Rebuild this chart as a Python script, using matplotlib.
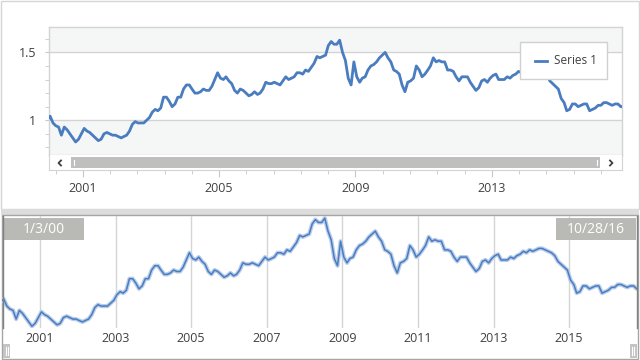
import numpy as np
import pandas as pd
import matplotlib
matplotlib.use("Agg")
import matplotlib.pyplot as plt
from matplotlib.patches import Rectangle
from matplotlib.lines import Line2D

# ---------------- data ----------------
series_name = "Series 1"
start_date = "2000-01-03"
end_date = "2016-10-28"
start_value = 1.02
end_value = 1.10
# approximate monthly levels (mid-month), Jan 2000 .. Oct 2016
values_2000 = [1.03, 0.98, 0.96, 0.95, 0.89, 0.95, 0.93, 0.90, 0.87, 0.84, 0.86, 0.90]
values_2001 = [0.94, 0.92, 0.91, 0.89, 0.87, 0.85, 0.86, 0.90, 0.91, 0.90, 0.89, 0.89]
values_2002 = [0.88, 0.87, 0.88, 0.89, 0.92, 0.97, 0.99, 0.98, 0.98, 0.98, 1.00, 1.02]
values_2003 = [1.06, 1.08, 1.07, 1.09, 1.17, 1.17, 1.14, 1.10, 1.12, 1.17, 1.17, 1.23]
values_2004 = [1.26, 1.26, 1.23, 1.20, 1.20, 1.21, 1.23, 1.22, 1.22, 1.25, 1.30, 1.35]
values_2005 = [1.31, 1.30, 1.32, 1.29, 1.27, 1.22, 1.20, 1.23, 1.22, 1.20, 1.18, 1.19]
values_2006 = [1.21, 1.19, 1.20, 1.23, 1.28, 1.27, 1.27, 1.28, 1.27, 1.26, 1.29, 1.32]
values_2007 = [1.30, 1.31, 1.32, 1.35, 1.35, 1.34, 1.37, 1.36, 1.39, 1.42, 1.47, 1.46]
values_2008 = [1.47, 1.48, 1.55, 1.58, 1.56, 1.56, 1.59, 1.50, 1.44, 1.31, 1.26, 1.43]
values_2009 = [1.32, 1.28, 1.31, 1.32, 1.37, 1.40, 1.41, 1.43, 1.46, 1.48, 1.50, 1.46]
values_2010 = [1.43, 1.37, 1.36, 1.34, 1.26, 1.21, 1.28, 1.29, 1.31, 1.40, 1.37, 1.32]
values_2011 = [1.34, 1.37, 1.40, 1.46, 1.43, 1.44, 1.43, 1.43, 1.37, 1.37, 1.36, 1.32]
values_2012 = [1.29, 1.32, 1.32, 1.32, 1.28, 1.25, 1.22, 1.24, 1.29, 1.30, 1.28, 1.31]
values_2013 = [1.33, 1.34, 1.30, 1.30, 1.30, 1.32, 1.31, 1.33, 1.34, 1.36, 1.35, 1.37]
values_2014 = [1.36, 1.37, 1.38, 1.38, 1.37, 1.36, 1.35, 1.33, 1.29, 1.27, 1.25, 1.23]
values_2015 = [1.16, 1.13, 1.07, 1.08, 1.12, 1.12, 1.10, 1.11, 1.12, 1.12, 1.07, 1.08]
values_2016 = [1.09, 1.11, 1.11, 1.13, 1.13, 1.12, 1.11, 1.12, 1.12, 1.10]

top_year_ticks = [2001, 2005, 2009, 2013]
top_y_ticks = [1.0, 1.5]
top_y_labels = ["1", "1.5"]
bottom_year_ticks = [2001, 2003, 2005, 2007, 2009, 2011, 2013, 2015]
left_caption = "1/3/00"
right_caption = "10/28/16"

monthly_values = (values_2000 + values_2001 + values_2002 + values_2003 + values_2004 +
                  values_2005 + values_2006 + values_2007 + values_2008 + values_2009 +
                  values_2010 + values_2011 + values_2012 + values_2013 + values_2014 +
                  values_2015 + values_2016)

month_dates = pd.date_range("2000-01-01", periods=len(monthly_values), freq="MS") + pd.Timedelta(days=14)
dates = pd.DatetimeIndex([pd.Timestamp(start_date)]).append(month_dates).append(
    pd.DatetimeIndex([pd.Timestamp(end_date)]))
vals = np.array([start_value] + monthly_values + [end_value])


def dec_year(idx):
    idx = pd.DatetimeIndex(idx)
    days = np.where(idx.is_leap_year, 366.0, 365.0)
    return idx.year + (idx.dayofyear - 1) / days


t = dec_year(dates)
t0, t1 = t[0], t[-1]

# ---------------- style ----------------
plt.rcParams["font.family"] = ["Open Sans", "DejaVu Sans"]
LINE = "#4a7cc0"
TXT = "#404040"
W, H = 640, 360
fig = plt.figure(figsize=(6.4, 3.6), dpi=100)
fig.patch.set_facecolor("white")


def rect(x0, y0, x1, y1, **kw):
    return Rectangle((x0 / W, 1 - y1 / H), (x1 - x0) / W, (y1 - y0) / H,
                     transform=fig.transFigure, **kw)


def fline(xs, ys, **kw):
    return Line2D([x / W for x in xs], [1 - y / H for y in ys], transform=fig.transFigure, **kw)


def ftext(x, y, s, **kw):
    return fig.text(x / W, 1 - y / H, s, **kw)


# panel frames
fig.add_artist(rect(1, 1, 638.5, 209, fc="white", ec="#d6d6d6", lw=1, zorder=-2))
fig.add_artist(rect(1, 209, 639, 215, fc="#dcdcdc", ec="none", zorder=-2))
fig.add_artist(rect(2, 215, 638, 359, fc="white", ec="#a6a6a6", lw=1, zorder=-2))

# ---------------- top chart ----------------
ax = fig.add_axes([49 / W, 1 - 155 / H, 573 / W, 128 / H])
ax.set_facecolor("#f5f7f6")
ax.axhspan(1.0, 1.5, color="white", zorder=0)
ax.plot(t, vals, color=LINE, lw=2.0, zorder=3, solid_joinstyle="round")
ax.set_xlim(t0, t1)
ax.set_ylim(0.744, 1.687)
ax.set_yticks(top_y_ticks)
ax.set_yticklabels(top_y_labels)
ax.set_yticks(np.round(np.arange(0.8, 1.65, 0.1), 2), minor=True)
ax.set_xticks([])
ax.grid(axis="y", which="major", color="#d3d3d3", lw=1)
ax.tick_params(axis="y", which="major", length=3, color="#c8c8c8", labelsize=9,
               labelcolor=TXT, pad=6)
ax.tick_params(axis="y", which="minor", length=3, color="#c8c8c8")
for s in ax.spines.values():
    s.set_color("#d3d3d3")
    s.set_linewidth(1)

# scrollbar / x axis
sb = fig.add_axes([49 / W, 1 - 170 / H, 573 / W, 15 / H])
sb.set_facecolor("white")
sb.set_xlim(t0, t1)
sb.set_ylim(0, 1)
sb.set_yticks([])
sb.set_xticks(top_year_ticks)
sb.set_xticklabels([str(y) for y in top_year_ticks])
minor_x = [v for v in np.arange(2000.2, t1, 0.8) if min(abs(v - m) for m in top_year_ticks) > 0.05]
sb.set_xticks(minor_x, minor=True)
sb.tick_params(axis="x", which="major", length=5, color="#c8c8c8", labelsize=9,
               labelcolor=TXT, pad=4)
sb.tick_params(axis="x", which="minor", length=3, color="#c8c8c8")
sb.spines["top"].set_visible(False)
for k in ["left", "right", "bottom"]:
    sb.spines[k].set_color("#d3d3d3")
fig.add_artist(rect(71, 157.3, 599.5, 168.3, fc="#bfc0bd", ec="none", zorder=5))
fig.add_artist(fline([74, 74], [160, 165.5], color="white", lw=0.8, zorder=6))
fig.add_artist(fline([596.5, 596.5], [160, 165.5], color="white", lw=0.8, zorder=6))
fig.add_artist(fline([61, 58.5, 61], [160.5, 163, 165.5], color="#404040", lw=1.3, zorder=6))
fig.add_artist(fline([610, 612.5, 610], [160.5, 163, 165.5], color="#404040", lw=1.3, zorder=6))

# legend
fig.add_artist(rect(520, 42, 607, 79, fc="white", ec="#d0d0d0", lw=1, zorder=7))
fig.add_artist(fline([535, 547], [61, 61], color=LINE, lw=2, zorder=8))
ftext(554, 61, series_name, fontsize=8.5, color=TXT, va="center", ha="left", zorder=8)

# ---------------- bottom (range) chart ----------------
bx = fig.add_axes([2.4 / W, 1 - 328 / H, 635.6 / W, 112 / H])
bx.set_facecolor("none")
bx.plot(t, vals, color="#b9cdea", lw=3.0, zorder=2, solid_joinstyle="round")
bx.plot(t, vals, color=LINE, lw=1.1, zorder=3, solid_joinstyle="round")
bx.set_xlim(t0, t1)
bx.set_ylim(vals.min() - 0.012, vals.max() + 0.015)
bx.set_yticks([])
bx.set_xticks(bottom_year_ticks)
bx.set_xticklabels([str(y) for y in bottom_year_ticks])
bx.grid(axis="x", color="#d5d5d5", lw=1, zorder=1)
bx.tick_params(axis="x", length=0, labelsize=9, labelcolor=TXT, pad=3)
for s in bx.spines.values():
    s.set_visible(False)

# selection captions
fig.add_artist(rect(3, 218, 84, 240, fc="#b9bab6", ec="none", zorder=6))
ftext(43.5, 229.5, left_caption, fontsize=10, color="white", ha="center", va="center", zorder=7)
fig.add_artist(rect(556, 218, 636, 240, fc="#b9bab6", ec="none", zorder=6))
ftext(596, 229.5, right_caption, fontsize=10, color="white", ha="center", va="center", zorder=7)

# selection edge lines
fig.add_artist(fline([3.2, 3.2], [216, 328], color="#808080", lw=1, zorder=6))
fig.add_artist(fline([636.5, 636.5], [216, 328], color="#808080", lw=1, zorder=6))

# handles
for hx in (3, 629.5):
    fig.add_artist(rect(hx, 344, hx + 7, 358, fc="#c4c4c4", ec="none", zorder=6))
    fig.add_artist(fline([hx + 2.5, hx + 2.5], [347, 355], color="white", lw=0.8, zorder=7))
    fig.add_artist(fline([hx + 4.5, hx + 4.5], [347, 355], color="white", lw=0.8, zorder=7))

fig.savefig("out.png", dpi=100)
